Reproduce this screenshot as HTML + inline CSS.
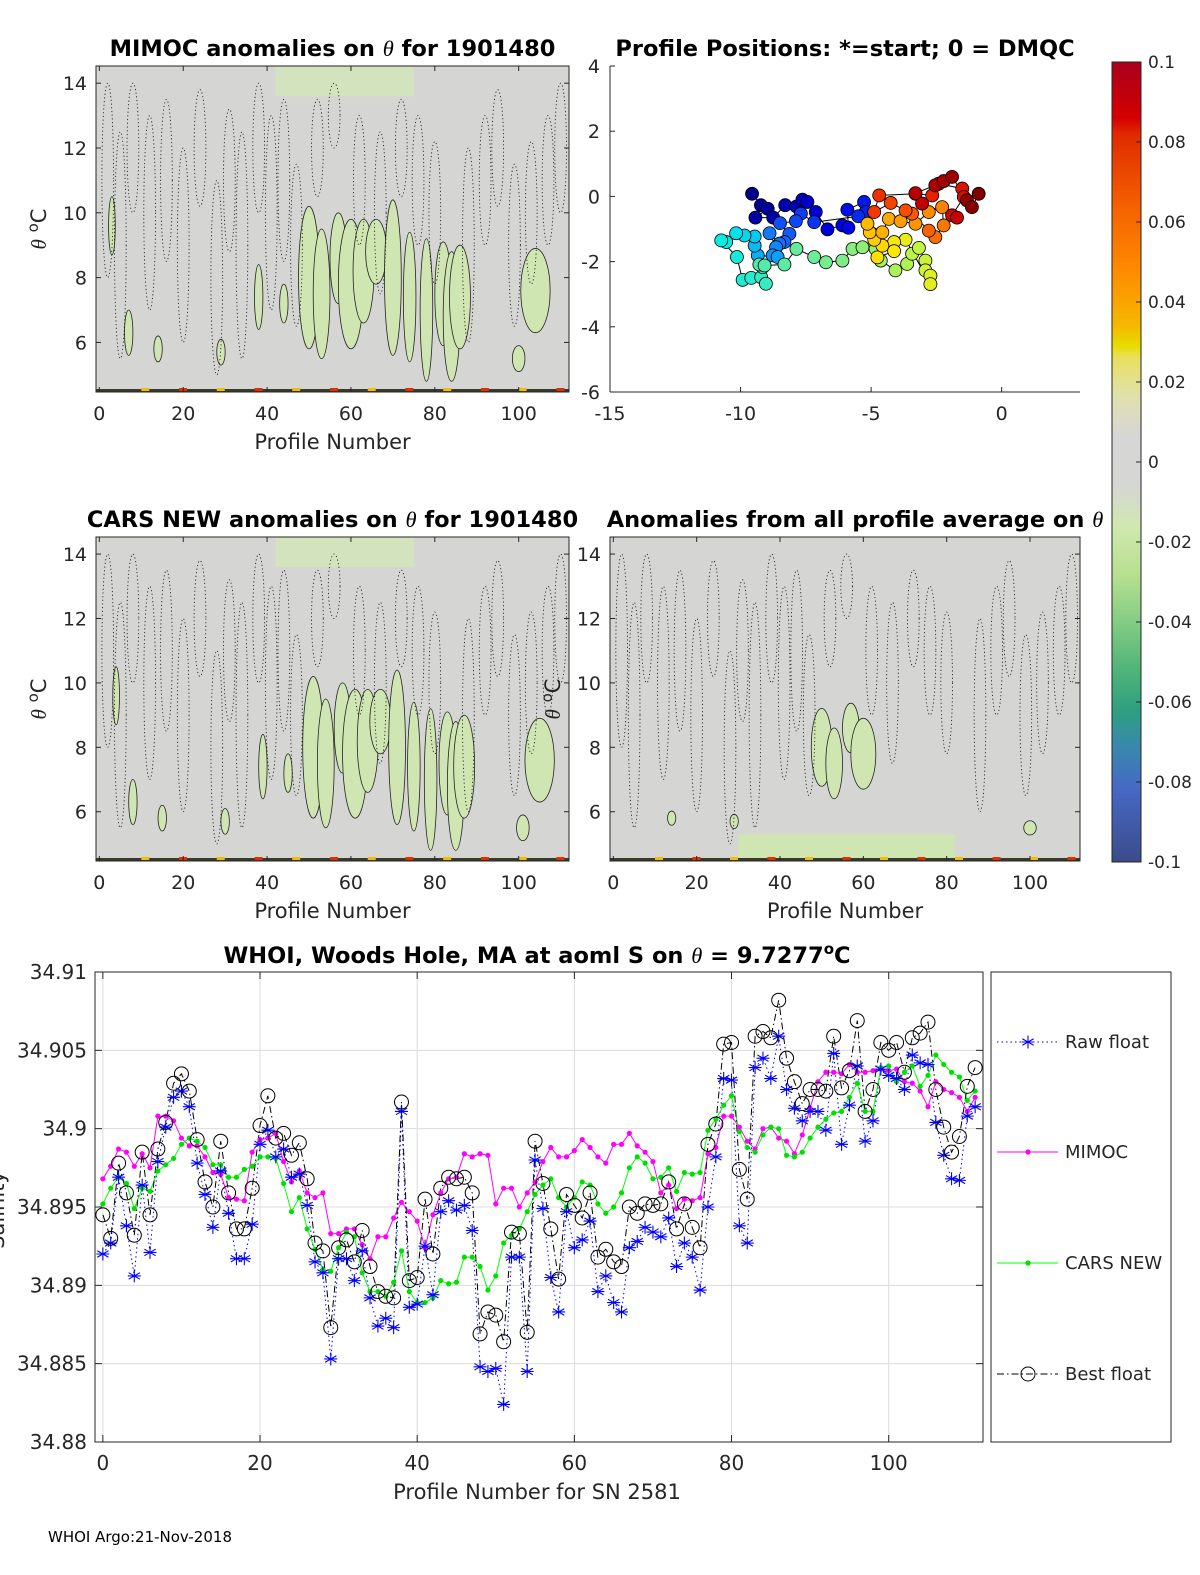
<!DOCTYPE html>
<html><head><meta charset="utf-8"><style>
html,body{margin:0;padding:0;background:#fff;}
svg{display:block;font-family:"DejaVu Sans","Liberation Sans",sans-serif;}
</style></head><body>
<svg id="fig" width="1200" height="1575" viewBox="0 0 1200 1575" xmlns="http://www.w3.org/2000/svg">
<defs>
<linearGradient id="cbg" x1="0" y1="0" x2="0" y2="1">
<stop offset="0" stop-color="#a8001e"/><stop offset="0.07" stop-color="#d40000"/>
<stop offset="0.09" stop-color="#e02a00"/><stop offset="0.18" stop-color="#f56000"/><stop offset="0.26" stop-color="#ff8a00"/>
<stop offset="0.33" stop-color="#f5b800"/><stop offset="0.355" stop-color="#e8dc00"/><stop offset="0.37" stop-color="#e8e060"/>
<stop offset="0.42" stop-color="#e0e0b0"/><stop offset="0.47" stop-color="#d6d6d6"/><stop offset="0.53" stop-color="#d6d6d4"/>
<stop offset="0.58" stop-color="#d0e8b0"/><stop offset="0.64" stop-color="#b8e090"/><stop offset="0.70" stop-color="#84cc84"/>
<stop offset="0.76" stop-color="#50b478"/><stop offset="0.81" stop-color="#2ea080"/><stop offset="0.86" stop-color="#3a86b0"/>
<stop offset="0.91" stop-color="#4668c4"/><stop offset="1" stop-color="#3b4b8a"/>
</linearGradient>
</defs>
<g id="root"></g>
</svg>
<script>
// ---------- bottom chart data ----------
const profiles = Array.from({length:112},(_, i)=>i);
const rawFloat = [34.8920,34.8927,34.8969,34.8938,34.8906,34.8964,34.8921,34.8979,34.9001,34.9020,34.9024,34.9014,34.8978,34.8958,34.8937,34.8973,34.8946,34.8917,34.8917,34.8939,34.8990,34.8999,34.8982,34.8987,34.8969,34.8971,34.8951,34.8915,34.8908,34.8853,34.8917,34.8917,34.8903,34.8922,34.8892,34.8874,34.8879,34.8873,34.9011,34.8886,34.8888,34.8925,34.8894,34.8947,34.8954,34.8948,34.8951,34.8935,34.8848,34.8845,34.8847,34.8824,34.8918,34.8918,34.8845,34.8980,34.8949,34.8905,34.8883,34.8947,34.8924,34.8929,34.8941,34.8896,34.8906,34.8889,34.8883,34.8924,34.8928,34.8937,34.8934,34.8931,34.8943,34.8912,34.8927,34.8918,34.8897,34.8950,34.8982,34.9032,34.9031,34.8938,34.8927,34.9039,34.9045,34.9032,34.9059,34.9025,34.9013,34.9005,34.9011,34.9011,34.8999,34.9048,34.8990,34.9015,34.9040,34.8992,34.9005,34.9038,34.9034,34.9032,34.9025,34.9047,34.9042,34.9041,34.9004,34.8983,34.8968,34.8967,34.9008,34.9014];
const mimoc = [34.8968,34.8976,34.8987,34.8985,34.8976,34.8984,34.8975,34.9008,34.9008,34.9005,34.8994,34.8989,34.8989,34.8982,34.8972,34.8971,34.8956,34.8955,34.8954,34.8985,34.8993,34.8994,34.8997,34.8979,34.8966,34.8973,34.8959,34.8956,34.8959,34.8933,34.8933,34.8936,34.8936,34.8926,34.8917,34.8931,34.8931,34.8943,34.8953,34.8947,34.8941,34.8924,34.8945,34.8959,34.8968,34.8969,34.8984,34.8982,34.8984,34.8983,34.8952,34.8962,34.8962,34.8950,34.8959,34.8966,34.8979,34.8988,34.8982,34.8982,34.8986,34.8993,34.8988,34.8982,34.8978,34.8990,34.8990,34.8997,34.8989,34.8985,34.8979,34.8959,34.8964,34.8949,34.8955,34.8954,34.8956,34.8984,34.8988,34.9008,34.9008,34.9001,34.8992,34.8987,34.9000,34.9001,34.8994,34.8992,34.8984,34.8996,34.9013,34.9030,34.9036,34.9036,34.9035,34.9041,34.9036,34.9036,34.9037,34.9038,34.9037,34.9038,34.9030,34.9029,34.9024,34.9014,34.9030,34.9025,34.9023,34.9020,34.9011,34.9020];
const carsNew = [34.8952,34.8962,34.8969,34.8965,34.8949,34.8962,34.8960,34.8973,34.8977,34.8981,34.8990,34.8994,34.8992,34.8988,34.8977,34.8977,34.8969,34.8969,34.8974,34.8976,34.8982,34.8982,34.8981,34.8965,34.8947,34.8956,34.8936,34.8923,34.8910,34.8909,34.8924,34.8934,34.8931,34.8908,34.8896,34.8896,34.8893,34.8902,34.8922,34.8896,34.8889,34.8889,34.8892,34.8903,34.8901,34.8902,34.8918,34.8918,34.8912,34.8897,34.8906,34.8927,34.8932,34.8936,34.8947,34.8958,34.8964,34.8968,34.8956,34.8950,34.8956,34.8966,34.8964,34.8952,34.8946,34.8950,34.8959,34.8975,34.8982,34.8978,34.8968,34.8969,34.8975,34.8960,34.8972,34.8971,34.8972,34.8999,34.9006,34.9015,34.9021,34.8998,34.8988,34.8985,34.8996,34.9001,34.9000,34.8983,34.8982,34.8985,34.8994,34.9001,34.9006,34.9010,34.9011,34.9020,34.9029,34.9011,34.9011,34.9039,34.9040,34.9030,34.9036,34.9040,34.9027,34.9034,34.9047,34.9041,34.9036,34.9033,34.9018,34.9024];
const bestFloat = [34.8945,34.8930,34.8978,34.8959,34.8932,34.8985,34.8945,34.8987,34.9004,34.9029,34.9035,34.9024,34.8993,34.8966,34.8950,34.8992,34.8959,34.8936,34.8936,34.8962,34.9002,34.9021,34.8994,34.8997,34.8983,34.8991,34.8968,34.8927,34.8922,34.8873,34.8924,34.8929,34.8915,34.8935,34.8912,34.8896,34.8893,34.8892,34.9017,34.8903,34.8905,34.8955,34.8920,34.8962,34.8969,34.8968,34.8969,34.8959,34.8869,34.8883,34.8881,34.8864,34.8934,34.8933,34.8870,34.8992,34.8965,34.8936,34.8904,34.8958,34.8951,34.8943,34.8959,34.8918,34.8923,34.8915,34.8912,34.8950,34.8946,34.8952,34.8951,34.8952,34.8966,34.8936,34.8952,34.8937,34.8924,34.8990,34.9003,34.9054,34.9055,34.8974,34.8955,34.9059,34.9062,34.9058,34.9082,34.9045,34.9030,34.9016,34.9025,34.9025,34.9024,34.9059,34.9026,34.9037,34.9069,34.9011,34.9025,34.9055,34.9050,34.9055,34.9036,34.9058,34.9061,34.9068,34.9025,34.9001,34.8985,34.8995,34.9027,34.9039];
const salYTicks = [34.91,34.905,34.9,34.895,34.89,34.885,34.88];
const salYTickLabels = ["34.91","34.905","34.9","34.895","34.89","34.885","34.88"];
const salXTicks = [0,20,40,60,80,100];

// ---------- profile positions ----------
const posLon = [-9.56,-9.22,-8.96,-9.43,-8.75,-8.29,-7.86,-7.63,-7.44,-7.12,-6.67,-6.10,-5.87,-5.91,-5.27,-5.21,-5.49,-7.18,-7.69,-7.88,-8.49,-8.13,-8.32,-8.51,-8.89,-8.64,-8.77,-8.58,-9.34,-9.46,-9.46,-9.85,-10.17,-10.55,-10.74,-10.14,-9.92,-9.59,-9.21,-9.03,-9.15,-9.28,-9.08,-8.32,-7.86,-7.18,-6.73,-6.10,-5.71,-5.33,-4.83,-4.63,-4.07,-3.62,-3.43,-3.17,-2.92,-2.92,-2.73,-2.73,-3.68,-4.12,-4.12,-4.76,-4.57,-4.88,-5.05,-5.14,-4.57,-4.32,-3.87,-3.30,-2.79,-2.28,-2.22,-2.54,-2.79,-3.43,-3.68,-4.25,-4.88,-4.69,-3.30,-2.66,-2.41,-1.51,-1.45,-1.90,-1.71,-3.05,-3.30,-2.54,-2.22,-1.90,-1.33,-1.14,-0.88];
const posLat = [0.08,-0.27,-0.38,-0.65,-0.65,-0.27,-0.31,-0.10,-0.17,-0.48,-1.01,-0.89,-0.96,-0.41,-0.17,-0.48,-0.61,-0.79,-0.53,-0.76,-0.82,-1.15,-1.40,-1.45,-1.13,-1.56,-1.81,-1.86,-1.81,-1.51,-1.23,-1.20,-1.13,-1.40,-1.35,-1.86,-2.56,-2.50,-2.48,-2.68,-2.17,-2.09,-2.12,-2.09,-1.61,-1.86,-2.02,-1.97,-1.61,-1.56,-1.61,-1.97,-2.27,-2.07,-1.76,-1.58,-1.97,-2.27,-2.43,-2.69,-1.33,-1.40,-1.68,-1.87,-1.51,-1.33,-1.10,-0.84,-1.10,-0.69,-0.76,-0.84,-0.48,-0.33,-0.89,-1.25,-1.05,-0.53,-0.43,-0.20,-0.48,0.03,0.08,0.03,0.39,0.24,-0.02,-0.58,-0.65,-0.22,0.10,0.34,0.47,0.60,-0.12,-0.33,0.08];
const posXTicks = [-15,-10,-5,0];
const posYTicks = [4,2,0,-2,-4,-6];

// ---------- anomaly section blobs (profile, theta centre, half-height, half-width) ----------
const greenP = [50,53,57,60,63,66,70,74,78,82,84,86,104,3,7,14,29,38,44,100];
const greenT = [8.0,7.5,8.6,7.8,8.2,8.8,8.0,7.4,7.0,7.5,6.8,7.4,7.6,9.6,6.3,5.8,5.7,7.4,7.2,5.5];
const greenH = [2.2,2.0,1.4,2.0,1.6,1.0,2.4,2.0,2.2,1.6,2.0,1.6,1.3,0.9,0.7,0.4,0.4,1.0,0.6,0.4];
const greenW = [2.5,2.0,2.0,3.0,2.5,2.5,2.0,1.5,1.5,2.0,2.0,2.5,3.5,0.8,1.0,1.0,1.0,1.0,1.0,1.5];
const dotP = [2,5,8,12,16,20,24,28,31,34,38,41,44,47,52,56,62,67,72,76,80,88,92,95,99,103,107,110];
const dotT = [11,9,12,10,11,9,12,8,11,9,12,10,11,9,12,13,11,10,12,11,10,9,11,12,9,10,11,12];
const dotH = [3,3.5,2,3,2.5,3,1.8,3,2.2,3.5,2,3,2.5,2.5,1.5,1,2,2.5,1.5,2,2.2,3,2,1.8,2.5,2.2,2,2];
const cbTicks = [0.1,0.08,0.06,0.04,0.02,0,-0.02,-0.04,-0.06,-0.08,-0.1];
const cbLabels = ["0.1","0.08","0.06","0.04","0.02","0","-0.02","-0.04","-0.06","-0.08","-0.1"];
const secXTicks = [0,20,40,60,80,100];
const secYTicks = [14,12,10,8,6];

const NS='http://www.w3.org/2000/svg';
const root=document.getElementById('root');
function mk(tag,attrs,parent){const e=document.createElementNS(NS,tag);for(const k in attrs)e.setAttribute(k,attrs[k]);(parent||root).appendChild(e);return e;}
function txt(s,x,y,size,anchor,parent,weight){const t=mk('text',{x:x,y:y,'font-size':size,'text-anchor':anchor||'middle',fill:'#262626'},parent);if(weight)t.setAttribute('font-weight',weight);t.textContent=s;return t;}
function titleWithTheta(parent,x,y,pre,post){
  const t=mk('text',{x:x,y:y,'font-size':22.5,'font-weight':'bold','text-anchor':'middle',fill:'#000'},parent);
  t.innerHTML=pre+'<tspan font-style="italic" font-weight="normal" font-family="Liberation Serif,serif">θ</tspan>'+post;
  return t;
}

// ---------- section panels ----------
function section(L,T,W,H,variant,name,pre,post,ylab,xlab){
  const g=mk('g',{});
  
  
  const xs=p=>L+(p+0.8)*(W/112.8);
  const ys=t=>T+(14.53-t)*(H/10.06);
  const clip='clip-'+name;
  const cp=mk('clipPath',{id:clip},g);mk('rect',{x:L,y:T,width:W,height:H},cp);
  const inner=mk('g',{'clip-path':'url(#'+clip+')'},g);
  mk('rect',{x:L,y:T,width:W,height:H,fill:'#d5d6d4'},inner);
  if(variant!==2){
    const tp=mk('rect',{x:xs(42),y:T,width:xs(75)-xs(42),height:ys(13.6)-T,fill:'#d3e3bd'},inner);
    
    
  }
  for(let i=0;i<greenP.length;i++){
    let hm=variant===2?0.55:1;
    if(variant===2 && (greenP[i]<45||greenP[i]>60) && greenT[i]>6) continue;
    const e=mk('ellipse',{cx:xs(greenP[i]+(variant===1?1:0)),cy:ys(greenT[i]),rx:greenW[i]*W/112.8,ry:greenH[i]*hm*H/10.06,fill:'#cfe5b2',stroke:'#222','stroke-width':0.8},inner);
    
    
  }
  if(variant===2){
    const b=mk('rect',{x:xs(30),y:ys(5.3),width:xs(82)-xs(30),height:ys(4.4)-ys(5.3),fill:'#cfe5b2'},inner);
    
    
  }
  for(let i=0;i<dotP.length;i++){
    const e=mk('ellipse',{cx:xs(dotP[i]),cy:ys(dotT[i]),rx:W/112.8*1.4,ry:dotH[i]*H/10.06,fill:'none',stroke:'#222','stroke-width':0.9,'stroke-dasharray':'1.2,2.5'},inner);
    
    
  }
  const strip=mk('rect',{x:L,y:T+H-3,width:W,height:3,fill:'#3a3a2a'},inner);
  
  
  for(let p=10;p<110;p+=9){mk('rect',{x:xs(p),y:T+H-4,width:8,height:3,fill:p%2?'#e03000':'#f0c000'},inner);}
  mk('rect',{x:L,y:T,width:W,height:H,fill:'none',stroke:'#262626','stroke-width':1},g);
  secXTicks.forEach(v=>{mk('line',{x1:xs(v),x2:xs(v),y1:T+H,y2:T+H-5,stroke:'#262626'},g);mk('line',{x1:xs(v),x2:xs(v),y1:T,y2:T+5,stroke:'#262626'},g);txt(String(v),xs(v),T+H+28,19,'middle',g);});
  secYTicks.forEach(v=>{mk('line',{x1:L,x2:L+5,y1:ys(v),y2:ys(v),stroke:'#262626'},g);mk('line',{x1:L+W,x2:L+W-5,y1:ys(v),y2:ys(v),stroke:'#262626'},g);txt(String(v),L-9,ys(v)+7,19,'end',g);});
  const tt=titleWithTheta(g,L+W/2+(variant===2?10:0),T-10,pre,post);
  
  if(ylab){const yl=mk('text',{x:0,y:0,'font-size':21,'text-anchor':'middle',fill:'#262626',transform:'translate('+(L-50)+','+(T+H/2)+') rotate(-90)'},g);yl.innerHTML='<tspan font-style="italic" font-family="Liberation Serif,serif">θ</tspan> <tspan dy="-8" font-size="15">o</tspan><tspan dy="8">C</tspan>';}
  if(xlab){const xl=txt('Profile Number',L+W/2,T+H+57,21,'middle',g);}
}
section(96,66,473,326,0,'mimoc-section','MIMOC anomalies on ','  for 1901480',true,true);
section(96,537,473,324,1,'cars-section','CARS NEW anomalies on ',' for 1901480',true,true);
section(610,537,470,324,2,'average-section','Anomalies from all profile average on ','',true,true);

// ---------- profile positions panel ----------
(function(){
  const L=610,T=66,W=470,H=326;
  const g=mk('g',{});
  
  
  const xs=v=>L+(v+15)*(W/18);
  const ys=v=>T+(4-v)*(H/10);
  mk('line',{x1:L,x2:L,y1:T,y2:T+H,stroke:'#262626'},g);
  mk('line',{x1:L,x2:L+W,y1:T+H,y2:T+H,stroke:'#262626'},g);
  posXTicks.forEach(v=>{mk('line',{x1:xs(v),x2:xs(v),y1:T+H,y2:T+H-5,stroke:'#262626'},g);txt(String(v),xs(v),T+H+28,19,'middle',g);});
  posYTicks.forEach(v=>{mk('line',{x1:L,x2:L+5,y1:ys(v),y2:ys(v),stroke:'#262626'},g);txt(String(v),L-10,ys(v)+7,19,'end',g);});
  let d='';posLon.forEach((v,i)=>{d+=(i?'L':'M')+xs(v).toFixed(1)+','+ys(posLat[i]).toFixed(1);});
  const tr=mk('path',{d:d,fill:'none',stroke:'#000','stroke-width':1},g);
  
  
  const stops=[[0,[0,0,140]],[0.12,[0,0,230]],[0.24,[20,110,255]],[0.34,[0,235,235]],[0.47,[110,235,150]],[0.58,[200,245,60]],[0.65,[255,230,0]],[0.76,[255,130,0]],[0.85,[240,40,0]],[0.92,[200,0,0]],[1,[128,0,0]]];
  function jet(t){for(let k=1;k<stops.length;k++){if(t<=stops[k][0]){const a=stops[k-1],b=stops[k],f=(t-a[0])/(b[0]-a[0]);return 'rgb('+a[1].map((c,j)=>Math.round(c+(b[1][j]-c)*f)).join(',')+')';}}return 'rgb(128,0,0)';}
  posLon.forEach((v,i)=>{
    const c=mk('circle',{cx:xs(v),cy:ys(posLat[i]),r:6.5,fill:jet(i/(posLon.length-1)),stroke:'#000','stroke-width':0.8},g);
    
    
  });
  const tt=txt('Profile Positions: *=start; 0 = DMQC',845,56,22.5,'middle',g,'bold');tt.setAttribute('fill','#000');
  
})();

// ---------- colorbar ----------
(function(){
  const g=mk('g',{});
  
  
  const L=1112,T=62,W=29,H=800;
  mk('rect',{x:L,y:T,width:W,height:H,fill:'url(#cbg)',stroke:'#262626','stroke-width':1},g);
  cbTicks.forEach((v,i)=>{const y=T+(0.1-v)/0.2*H;mk('line',{x1:L+W-5,x2:L+W,y1:y,y2:y,stroke:'#262626'},g);txt(cbLabels[i],L+W+7,y+6,17,'start',g);});
})();

// ---------- salinity time series ----------
(function(){
  const L=95,T=972,W=888,H=470;
  const g=mk('g',{});
  
  
  const xs=i=>L+(i+1)*(W/113);
  const ys=v=>T+(34.91-v)/0.03*H;
  mk('rect',{x:L,y:T,width:W,height:H,fill:'#fff'},g);
  salXTicks.forEach(v=>{mk('line',{x1:xs(v),x2:xs(v),y1:T,y2:T+H,stroke:'#dcdcdc'},g);});
  salYTicks.forEach(v=>{mk('line',{x1:L,x2:L+W,y1:ys(v),y2:ys(v),stroke:'#dcdcdc'},g);});
  salXTicks.forEach(v=>{mk('line',{x1:xs(v),x2:xs(v),y1:T+H,y2:T+H-7,stroke:'#262626'},g);mk('line',{x1:xs(v),x2:xs(v),y1:T,y2:T+7,stroke:'#262626'},g);txt(String(v),xs(v),T+H+28,20,'middle',g);});
  salYTicks.forEach((v,i)=>{mk('line',{x1:L,x2:L+7,y1:ys(v),y2:ys(v),stroke:'#262626'},g);mk('line',{x1:L+W,x2:L+W-7,y1:ys(v),y2:ys(v),stroke:'#262626'},g);txt(salYTickLabels[i],L-8,ys(v)+7,20,'end',g);});
  function path(arr){let d='';arr.forEach((v,i)=>{d+=(i?'L':'M')+xs(profiles[i]).toFixed(1)+','+ys(v).toFixed(1);});return d;}
  const rl=mk('path',{d:path(rawFloat),fill:'none',stroke:'#0000ff','stroke-width':1,'stroke-dasharray':'1.5,3'},g);
  
  const ml=mk('path',{d:path(mimoc),fill:'none',stroke:'#ff00ff','stroke-width':1},g);
  
  const cl=mk('path',{d:path(carsNew),fill:'none',stroke:'#00ff00','stroke-width':1},g);
  
  const bl=mk('path',{d:path(bestFloat),fill:'none',stroke:'#000','stroke-width':1,'stroke-dasharray':'7,3,1.5,3'},g);
  
  function star(x,y,p,col){const s=6.5;let d='';for(let a=0;a<3;a++){const an=a*Math.PI/3+Math.PI/2;d+='M'+(x-s*Math.cos(an))+','+(y-s*Math.sin(an))+'L'+(x+s*Math.cos(an))+','+(y+s*Math.sin(an));}d+='M'+(x-s)+','+y+'L'+(x+s)+','+y;return mk('path',{d:d,stroke:col,'stroke-width':1.1,fill:'none'},p);}
  mimoc.forEach((v,i)=>{const c=mk('circle',{cx:xs(profiles[i]),cy:ys(v),r:2.6,fill:'#ff00ff'},g);});
  carsNew.forEach((v,i)=>{const c=mk('circle',{cx:xs(profiles[i]),cy:ys(v),r:2.6,fill:'#00e000'},g);});
  rawFloat.forEach((v,i)=>{const s=star(xs(profiles[i]),ys(v),g,'#0000ff');});
  bestFloat.forEach((v,i)=>{const c=mk('circle',{cx:xs(profiles[i]),cy:ys(v),r:7,fill:'none',stroke:'#000','stroke-width':1},g);});
  mk('rect',{x:L,y:T,width:W,height:H,fill:'none',stroke:'#262626','stroke-width':1},g);
  const tt=mk('text',{x:537,y:963,'font-size':22.5,'font-weight':'bold','text-anchor':'middle',fill:'#000'},g);
  tt.innerHTML='WHOI, Woods Hole, MA at aoml S on <tspan font-style="italic" font-weight="normal" font-family="Liberation Serif,serif">θ</tspan> = 9.7277<tspan dy="-9" font-size="15">o</tspan><tspan dy="9">C</tspan>';
  
  const xl=txt('Profile Number for SN 2581',537,1499,21,'middle',g);
  
  const yl=mk('text',{x:0,y:0,'font-size':21,'text-anchor':'middle',fill:'#262626',transform:'translate(4,1210) rotate(-90)'},g);yl.textContent='Salinity';
  
  const lg=mk('g',{},g);
  
  
  mk('rect',{x:991,y:972,width:180,height:470,fill:'#fff',stroke:'#262626','stroke-width':1},lg);
  const items=[['Raw float',1042],['MIMOC',1152],['CARS NEW',1263],['Best float',1374]];
  items.forEach((it,k)=>{
    const e=mk('g',{},lg);
    
    
    const y=it[1];
    if(k===0){mk('line',{x1:997,x2:1058,y1:y,y2:y,stroke:'#0000ff','stroke-dasharray':'1.5,3'},e);star(1028,y,e,'#0000ff');}
    if(k===1){mk('line',{x1:997,x2:1058,y1:y,y2:y,stroke:'#ff00ff'},e);mk('circle',{cx:1028,cy:y,r:2.6,fill:'#ff00ff'},e);}
    if(k===2){mk('line',{x1:997,x2:1058,y1:y,y2:y,stroke:'#00ff00'},e);mk('circle',{cx:1028,cy:y,r:2.6,fill:'#00e000'},e);}
    if(k===3){mk('line',{x1:997,x2:1058,y1:y,y2:y,stroke:'#000','stroke-dasharray':'7,3,1.5,3'},e);mk('circle',{cx:1028,cy:y,r:7,fill:'none',stroke:'#000'},e);}
    txt(it[0],1065,y+6,18,'start',e);
  });
})();
const ft=txt('WHOI Argo:21-Nov-2018',48,1542,15,'start');
ft.setAttribute('fill','#000');


</script>
</body></html>
